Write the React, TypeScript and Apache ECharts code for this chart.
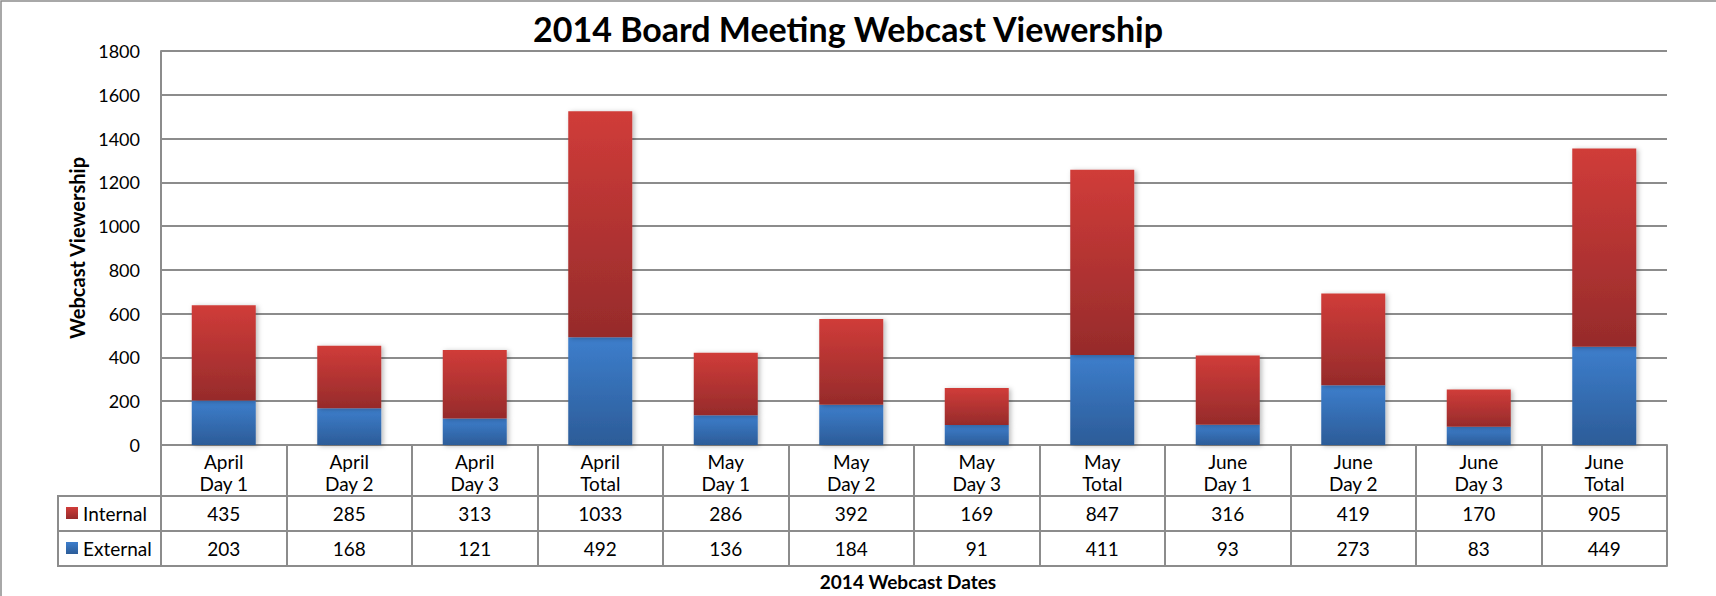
import React, { useEffect, useRef } from "react";
import * as echarts from "echarts";

const categories = [
  "April\nDay 1", "April\nDay 2", "April\nDay 3", "April\nTotal",
  "May\nDay 1", "May\nDay 2", "May\nDay 3", "May\nTotal",
  "June\nDay 1", "June\nDay 2", "June\nDay 3", "June\nTotal",
];
const internalValues = [435, 285, 313, 1033, 286, 392, 169, 847, 316, 419, 170, 905];
const externalValues = [203, 168, 121, 492, 136, 184, 91, 411, 93, 273, 83, 449];
const yMin = 0;
const yMax = 1800;
const yInterval = 200;

const TITLE = "2014 Board Meeting Webcast Viewership";
const X_TITLE = "2014 Webcast Dates";
const Y_TITLE = "Webcast Viewership";

const FONT = "Lato";
const LINE = "#8c8c8c";

const redGrad = new echarts.graphic.LinearGradient(0, 0, 0, 1, [
  { offset: 0, color: "#d03c39" },
  { offset: 1, color: "#962b2b" },
]);
const blueGrad = new echarts.graphic.LinearGradient(0, 0, 0, 1, [
  { offset: 0, color: "#3d7ecc" },
  { offset: 1, color: "#2c5c98" },
]);

export default function App() {
  const ref = useRef<HTMLDivElement>(null);
  useEffect(() => {
    if (!ref.current) return;
    const chart = echarts.init(ref.current, undefined, { renderer: "svg" });
    const lineStyle = { color: LINE, width: 2 };
    const valueAxis = (data: number[], offset: number) => ({
      type: "category",
      gridIndex: 0,
      position: "bottom",
      offset,
      data: data.map(String),
      axisLine: { show: true, onZero: false, lineStyle },
      axisTick: { show: false },
      axisLabel: {
        interval: 0,
        margin: 7,
        fontFamily: FONT,
        fontSize: 19,
        lineHeight: 20,
        color: "#000",
      },
      splitLine: { show: false },
    });
    chart.setOption({
      animation: false,
      backgroundColor: "#fff",
      title: {
        text: TITLE,
        left: 848,
        top: 11,
        padding: 0,
        textAlign: "center",
        textStyle: { fontFamily: FONT, fontWeight: "bold", fontSize: 34, color: "#000" },
      },
      legend: {
        orient: "vertical",
        left: 66,
        top: 503,
        padding: 0,
        itemWidth: 12,
        itemHeight: 12,
        itemGap: 15,
        icon: "rect",
        data: ["Internal", "External"],
        itemStyle: { shadowBlur: 0, shadowOffsetX: 0, shadowOffsetY: 0 },
        textStyle: { fontFamily: FONT, fontSize: 19, lineHeight: 20, color: "#000" },
      },
      grid: { left: 161, right: 49, top: 51, bottom: 151, containLabel: false },
      xAxis: [
        {
          type: "category",
          position: "bottom",
          data: categories,
          axisLine: { show: true, onZero: false, lineStyle },
          axisTick: { show: true, interval: 0, length: 121, lineStyle },
          axisLabel: {
            interval: 0,
            margin: 5,
            fontFamily: FONT,
            fontSize: 19,
            lineHeight: 22,
            color: "#000",
          },
        },
        valueAxis(internalValues, 51),
        valueAxis(externalValues, 86),
        {
          type: "category",
          position: "bottom",
          offset: 121,
          data: categories,
          axisLine: { show: true, onZero: false, lineStyle },
          axisTick: { show: false },
          axisLabel: { show: false },
        },
      ],
      yAxis: {
        type: "value",
        min: yMin,
        max: yMax,
        interval: yInterval,
        axisLine: { show: true, lineStyle },
        axisTick: { show: false },
        axisLabel: {
          margin: 21,
          fontFamily: FONT,
          fontSize: 18,
          color: "#000",
          formatter: (v: number) => String(v),
        },
        splitLine: { show: true, lineStyle: { color: LINE, width: 2 } },
      },
      series: [
        {
          name: "External",
          type: "bar",
          stack: "total",
          barWidth: 64,
          data: externalValues,
          itemStyle: {
            color: blueGrad,
            shadowColor: "rgba(0,0,0,0.28)",
            shadowBlur: 5,
            shadowOffsetX: 2,
            shadowOffsetY: 1,
          },
        },
        {
          name: "Internal",
          type: "bar",
          stack: "total",
          barWidth: 64,
          data: internalValues,
          itemStyle: {
            color: redGrad,
            shadowColor: "rgba(0,0,0,0.28)",
            shadowBlur: 5,
            shadowOffsetX: 2,
            shadowOffsetY: 1,
          },
        },
      ],
      graphic: [
        {
          type: "rect",
          z: -10,
          silent: true,
          shape: { x: 1, y: 1, width: 1800, height: 800 },
          style: { fill: "none", stroke: LINE, lineWidth: 1.5 },
        },
        {
          type: "rect",
          silent: true,
          shape: { x: 58, y: 496, width: 103, height: 70 },
          style: { fill: "none", stroke: LINE, lineWidth: 2 },
        },
        {
          type: "line",
          silent: true,
          shape: { x1: 58, y1: 531, x2: 161, y2: 531 },
          style: { stroke: LINE, lineWidth: 2 },
        },
        {
          type: "text",
          silent: true,
          x: 77,
          y: 248,
          rotation: Math.PI / 2,
          style: {
            text: Y_TITLE,
            font: `bold 20px ${FONT}`,
            fill: "#000",
            align: "center",
            verticalAlign: "middle",
          },
        },
        {
          type: "text",
          silent: true,
          x: 908,
          y: 581,
          style: {
            text: X_TITLE,
            font: `bold 19px ${FONT}`,
            fill: "#000",
            align: "center",
            verticalAlign: "middle",
          },
        },
      ],
    });
    return () => chart.dispose();
  }, []);
  return (
    <div
      ref={ref}
      style={{ position: "fixed", left: 0, top: 0, width: 1716, height: 596 }}
    />
  );
}
